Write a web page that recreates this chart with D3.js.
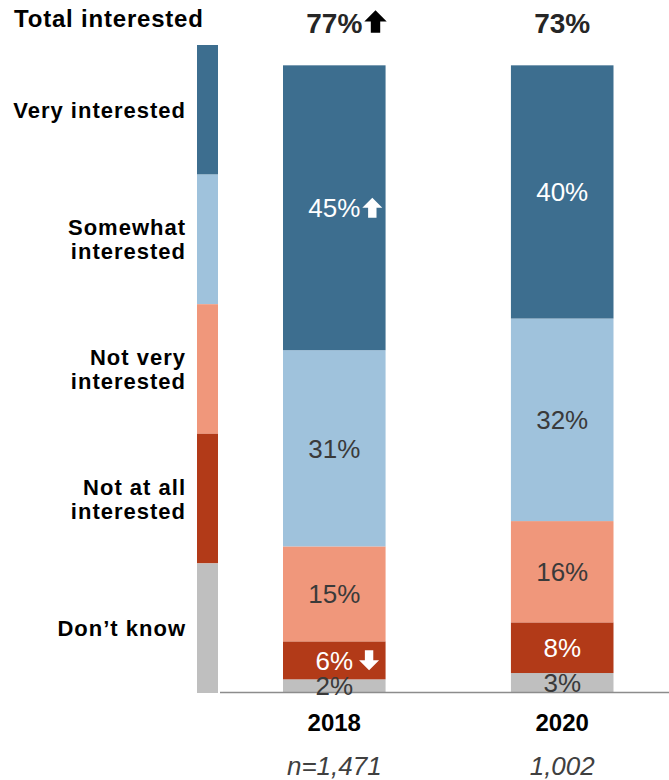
<!DOCTYPE html>
<html>
<head>
<meta charset="utf-8">
<script src="https://cdn.jsdelivr.net/npm/d3@7/dist/d3.min.js"></script>
<style>
  html, body { margin: 0; padding: 0; background: #fff; }
  svg { display: block; font-family: "Liberation Sans", Arial, sans-serif; }
</style>
</head>
<body>
<svg id="chart" width="669" height="780"></svg>
<script>
// Survey waves and sample sizes
const years = ["2018", "2020"];
const sampleLabels = ["n=1,471", "1,002"];

// Response categories, top of the stack first
const categories = ["Very interested", "Somewhat interested", "Not very interested", "Not at all interested", "Don’t know"];
const legendLines = [["Very interested"], ["Somewhat", "interested"], ["Not very", "interested"], ["Not at all", "interested"], ["Don’t know"]];
const colors = ["#3d6e8f", "#9fc2dc", "#f0977b", "#b23a18", "#bfbfbf"];
const lightText = [true, false, false, true, false];

// Percentages per category, one value per year
const veryInterested = [45, 40];
const somewhatInterested = [31, 32];
const notVeryInterested = [15, 16];
const notAtAllInterested = [6, 8];
const dontKnow = [2, 3];

// Total interested (very + somewhat), as reported
const totalInterested = [77, 73];

// Significant change markers: [year index, category index or "total", direction]
const changeMarkers = [
  { year: 0, key: "total", dir: "up" },
  { year: 0, key: 0, dir: "up" },
  { year: 0, key: 3, dir: "down" }
];

const seriesValues = [veryInterested, somewhatInterested, notVeryInterested, notAtAllInterested, dontKnow];

const svg = d3.select("#chart");
const baseline = 692;

const y = d3.scaleLinear().domain([0, 100]).range([baseline, baseline - 633]);
const x = d3.scaleBand().domain(years).range([283, 613.5]).paddingInner(0.55).paddingOuter(0);

// Build rows for stacking (bottom of stack = last category)
const rows = years.map((yr, i) => {
  const r = { year: yr };
  categories.forEach((c, k) => { r[c] = seriesValues[k][i]; });
  return r;
});
const stackOrder = categories.slice().reverse();
const stacked = d3.stack().keys(stackOrder)(rows);

// Block arrow glyph, pointing up in a 20x20 box, scaled by s
const arrowD = "M10,0 L20,10 L14.2,10 L14.2,20 L5.8,20 L5.8,10 L0,10 Z";
function drawArrow(g, xLeft, yMid, dir, fill, s) {
  const h = 20 * s;
  const a = g.append("path").attr("d", arrowD).attr("fill", fill);
  if (dir === "up") a.attr("transform", `translate(${xLeft},${yMid - h / 2}) scale(${s})`);
  else a.attr("transform", `translate(${xLeft + h},${yMid + h / 2}) rotate(180) scale(${s})`);
}

// Bars
const barG = svg.append("g");
stacked.forEach(layer => {
  const k = categories.indexOf(layer.key);
  barG.selectAll(null).data(layer).join("rect")
    .attr("x", d => x(d.data.year))
    .attr("width", x.bandwidth())
    .attr("y", d => y(d[1]))
    .attr("height", d => y(d[0]) - y(d[1]))
    .attr("fill", colors[k]);
});

// Baseline
svg.append("line")
  .attr("x1", 220).attr("x2", 669)
  .attr("y1", baseline + 0.5).attr("y2", baseline + 0.5)
  .attr("stroke", "#8c8c8c").attr("stroke-width", 1.5);

// Value labels inside segments
const labelG = svg.append("g");
stacked.forEach(layer => {
  const k = categories.indexOf(layer.key);
  layer.forEach((d, i) => {
    const cx = x(d.data.year) + x.bandwidth() / 2;
    const cy = (y(d[0]) + y(d[1])) / 2;
    const t = labelG.append("text")
      .attr("x", cx).attr("y", cy)
      .attr("dy", "0.36em")
      .attr("text-anchor", "middle")
      .attr("font-size", 26)
      .attr("fill", lightText[k] ? "#ffffff" : "#3a3a3a")
      .text(d[1] - d[0] + "%");
    const m = changeMarkers.find(mk => mk.year === i && mk.key === k);
    if (m) {
      const w = t.node().getComputedTextLength();
      drawArrow(labelG, cx + w / 2 + (m.dir === "down" ? 6 : 2), cy, m.dir, lightText[k] ? "#ffffff" : "#000", 1);
    }
  });
});

// Totals above bars
years.forEach((yr, i) => {
  const cx = x(yr) + x.bandwidth() / 2;
  const t = svg.append("text")
    .attr("x", cx).attr("y", 23)
    .attr("dy", "0.36em")
    .attr("text-anchor", "middle")
    .attr("font-size", 28).attr("font-weight", "bold")
    .attr("fill", "#262626")
    .text(totalInterested[i] + "%");
  const m = changeMarkers.find(mk => mk.year === i && mk.key === "total");
  if (m) {
    const w = t.node().getComputedTextLength();
    drawArrow(svg, cx + w / 2 + 2, 21.5, m.dir, "#000", 1.12);
  }
});

// Year labels and sample sizes
years.forEach((yr, i) => {
  const cx = x(yr) + x.bandwidth() / 2;
  svg.append("text")
    .attr("x", cx).attr("y", 722).attr("dy", "0.36em")
    .attr("text-anchor", "middle")
    .attr("font-size", 24).attr("font-weight", "bold")
    .attr("fill", "#000")
    .text(yr);
  svg.append("text")
    .attr("x", cx).attr("y", 766).attr("dy", "0.36em")
    .attr("text-anchor", "middle")
    .attr("font-size", 26).attr("font-style", "italic")
    .attr("fill", "#404040")
    .text(sampleLabels[i]);
});

// Legend column
const ly = d3.scaleBand().domain(categories).range([45, 693]);
const legendG = svg.append("g");
categories.forEach((c, k) => {
  legendG.append("rect")
    .attr("x", 197).attr("width", 21)
    .attr("y", ly(c)).attr("height", ly.bandwidth())
    .attr("fill", colors[k]);
  const lines = legendLines[k];
  const cy = ly(c) + ly.bandwidth() / 2;
  const lh = 24;
  lines.forEach((ln, j) => {
    legendG.append("text")
      .attr("x", 186)
      .attr("y", cy + (j - (lines.length - 1) / 2) * lh)
      .attr("dy", "0.36em")
      .attr("text-anchor", "end")
      .attr("font-size", 22).attr("font-weight", "bold")
      .attr("letter-spacing", 1)
      .attr("fill", "#000")
      .text(ln);
  });
});

svg.append("text")
  .attr("x", 14).attr("y", 18).attr("dy", "0.36em")
  .attr("font-size", 24).attr("font-weight", "bold")
  .attr("letter-spacing", 0.8)
  .attr("fill", "#000")
  .text("Total interested");
</script>
</body>
</html>
